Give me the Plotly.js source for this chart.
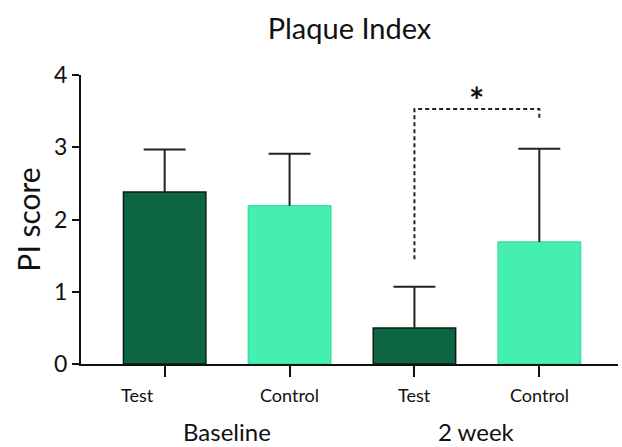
<!DOCTYPE html>
<html>
<head>
<meta charset="utf-8">
<script src="https://cdn.plot.ly/plotly-3.0.1.min.js"></script>
<style>html,body{margin:0;padding:0;background:#fff;}#chart{width:622px;height:447px;}</style>
</head>
<body>
<div id="chart"></div>
<script>
// Data
const categories = ['Test', 'Control', 'Test', 'Control'];
const groups = ['Baseline', '2 week'];
const means = [2.38, 2.19, 0.50, 1.69];
const sds = [0.59, 0.72, 0.57, 1.29];
const yTicks = [0, 1, 2, 3, 4];
const sigPair = [2, 3];
const sigLabel = '*';

const xPos = categories.map((c, i) => i);
const fills = ['#0b6641', '#45efb0', '#0b6641', '#45efb0'];
const edges = ['#0a1f14', '#3fdca3', '#0a1f14', '#3fdca3'];
const FONT = 'Lato, "Open Sans", sans-serif';
const CAP = 0.168;

const barTrace = {
  type: 'bar',
  x: xPos,
  y: means,
  width: 0.66,
  marker: {color: fills, line: {color: edges, width: 1.5}},
  hoverinfo: 'skip'
};

// upper-only SD whiskers (no cap at the bar top)
const ex = [], ey = [];
xPos.forEach((x, i) => {
  const top = means[i] + sds[i];
  ex.push(x, x, null, x - CAP, x + CAP, null);
  ey.push(means[i], top, null, top, top, null);
});
const errTrace = {
  type: 'scatter', mode: 'lines', x: ex, y: ey,
  line: {color: '#222', width: 2}, hoverinfo: 'skip', connectgaps: false
};

const annotations = [];
categories.forEach((c, i) => {
  annotations.push({x: xPos[i], xref: 'x', y: -0.107, yref: 'paper', text: c,
    showarrow: false, xshift: i === 0 ? -27 : 0, yanchor: 'middle',
    font: {family: FONT, size: 18, color: '#111'}});
});
groups.forEach((g, j) => {
  annotations.push({x: (xPos[2*j] + xPos[2*j+1]) / 2, xref: 'x', y: -0.232, yref: 'paper', text: g,
    showarrow: false, yanchor: 'middle', font: {family: FONT, size: 24, color: '#111'}});
});
annotations.push({x: (sigPair[0] + sigPair[1]) / 2, xref: 'x', y: 3.66, yref: 'y', text: '<b>' + sigLabel + '</b>',
  showarrow: false, yanchor: 'middle', font: {family: FONT, size: 36, color: '#111'}});

const shapes = [{
  type: 'path', xref: 'x', yref: 'y',
  path: `M ${sigPair[0]} 1.45 L ${sigPair[0]} 3.53 L ${sigPair[1]} 3.53 L ${sigPair[1]} 3.38`,
  line: {color: '#222', width: 2, dash: '4px,3px'}
}];

const layout = {
  width: 622, height: 447,
  margin: {l: 81, r: 4, t: 75, b: 83},
  paper_bgcolor: '#fff', plot_bgcolor: '#fff',
  showlegend: false,
  title: {text: 'Plaque Index', x: 0.5, xref: 'paper', xanchor: 'center',
          y: 1 - 29/447, yref: 'container', yanchor: 'middle',
          font: {family: FONT, size: 29, color: '#111'}},
  xaxis: {range: [-0.67, 3.63], tickvals: xPos, ticktext: categories.map(() => ''),
          showgrid: false, zeroline: false, showline: true, linecolor: '#111', linewidth: 2,
          ticks: 'outside', ticklen: 11, tickwidth: 2, tickcolor: '#111', fixedrange: true},
  yaxis: {range: [0, 4], tickvals: yTicks, showgrid: false, zeroline: false,
          showline: true, linecolor: '#111', linewidth: 2,
          ticks: 'outside', ticklen: 7, tickwidth: 2, tickcolor: '#111',
          tickfont: {family: FONT, size: 23, color: '#111'},
          title: {text: 'PI score', standoff: 5, font: {family: FONT, size: 30, color: '#111'}}},
  annotations: annotations,
  shapes: shapes
};

Plotly.newPlot('chart', [barTrace, errTrace], layout, {displayModeBar: false, staticPlot: true});
</script>
</body>
</html>
